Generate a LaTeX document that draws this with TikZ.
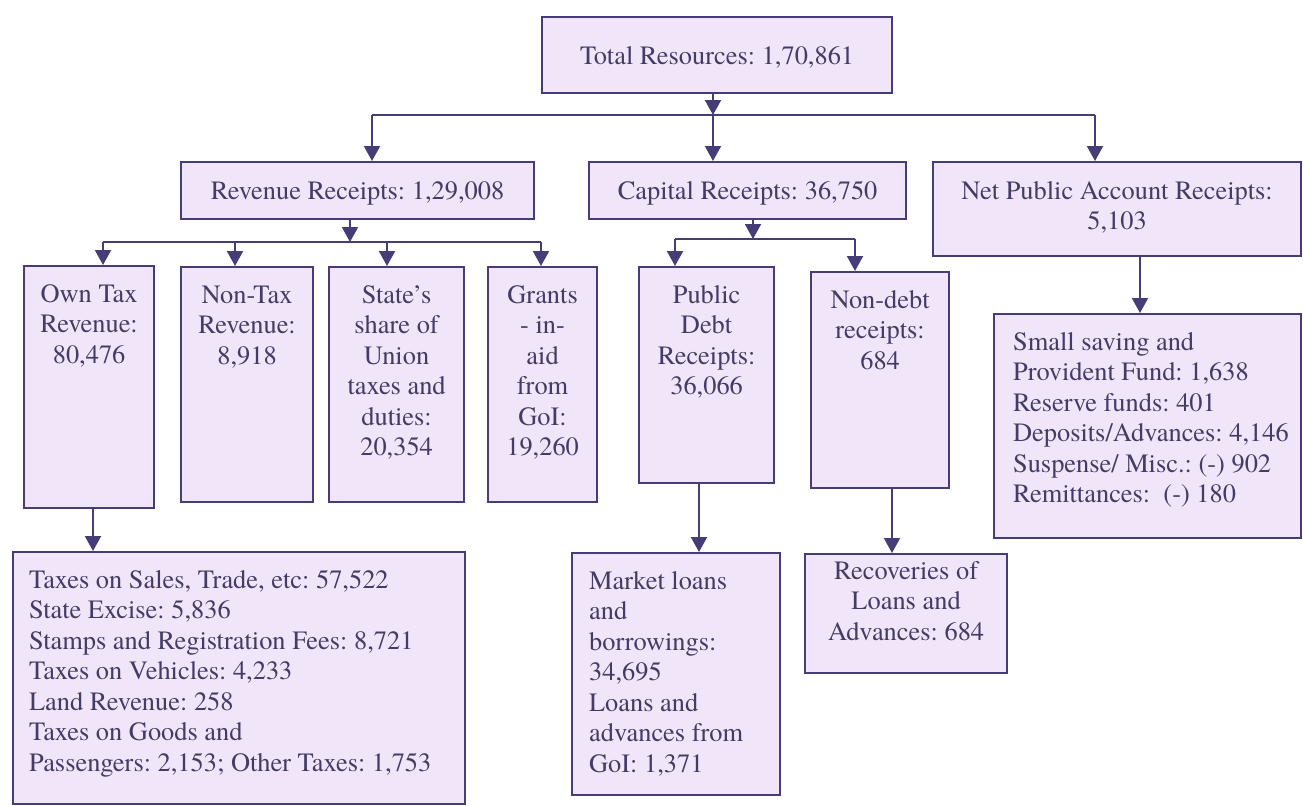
\documentclass[tikz,border=0pt]{standalone}
\usepackage{fontspec}
\setmainfont{texgyretermes-regular.otf}[BoldFont=texgyretermes-bold.otf]
\usetikzlibrary{arrows.meta}

\definecolor{boxfill}{RGB}{241,229,250}
\definecolor{boxline}{RGB}{70,60,120}
\definecolor{ink}{RGB}{68,60,100}

% box text: [first baseline]{text width}{box height}{lines}
\newcommand{\cell}[4][18pt]{\parbox[t][#3][t]{#2}{\vspace*{\dimexpr#1-\ht\strutbox\relax}\strut#4}}

\tikzset{
    cell/.style={draw=boxline, fill=boxfill, line width=1.1pt, inner xsep=3pt, inner ysep=0pt,
        anchor=north west, text=ink, font=\fontsize{13.2}{15.25}\selectfont\frenchspacing},
    flow/.style={draw=boxline, line width=1pt, -{Triangle[width=8pt,length=7.5pt]}},
    tie/.style={draw=boxline, line width=1pt}
}

\begin{document}
\begin{tikzpicture}[x=0.5pt, y=-0.5pt]
            \useasboundingbox (0,0) rectangle (1303,805);

            % top levels
            \node[cell] (total) at (541,16) {\cell[23.5pt]{169pt}{38pt}{\centering Total Resources: 1,70,861}};
            \node[cell] (rev) at (180,161) {\cell[18.5pt]{170.5pt}{28.5pt}{\centering Revenue Receipts: 1,29,008}};
            \node[cell] (cap) at (588,161) {\cell[18.5pt]{152.5pt}{28.5pt}{\centering Capital Receipts: 36,750}};
            \node[cell] (npa) at (932,161) {\cell[18.5pt]{178pt}{47pt}{\centering Net Public Account Receipts:\\5,103}};

            % second row
            \node[cell] (own) at (23,265) {\cell{59pt}{121pt}{\centering Own Tax\\Revenue:\\80,476}};
            \node[cell] (nontax) at (180,266) {\cell{60pt}{117.5pt}{\centering Non-Tax\\Revenue:\\8,918}};
            \node[cell] (share) at (328,266) {\cell{61.5pt}{117.5pt}{\centering State's\\share of\\Union\\taxes and\\duties:\\20,354}};
            \node[cell] (grants) at (487,266) {\cell{48.5pt}{117.5pt}{\centering Grants\\- in-\\aid\\from\\GoI:\\19,260}};
            \node[cell] (pdebt) at (638,266) {\cell{61.5pt}{108pt}{\centering Public\\Debt\\Receipts:\\36,066}};
            \node[cell] (nondebt) at (810,271) {\cell{63pt}{108pt}{\centering Non-debt\\receipts:\\684}};
            \node[cell] (smallsav) at (993,313) {\cell{147.5pt}{112pt}{\leftskip=6.5pt\relax Small saving and\\Provident Fund: 1,638\\Reserve funds: 401\\Deposits/Advances: 4,146\\Suspense/ Misc.: (-) 902\\Remittances:\ \ (-) 180}};

            % bottom row
            \node[cell] (taxes) at (12,551) {\cell{220pt}{126pt}{\leftskip=5pt\relax Taxes on Sales, Trade, etc: 57,522\\State Excise: 5,836\\Stamps and Registration Fees: 8,721\\Taxes on Vehicles: 4,233\\Land Revenue: 258\\Taxes on Goods and\\Passengers: 2,153; Other Taxes: 1,753}};
            \node[cell] (market) at (571,552) {\cell{98pt}{121pt}{\leftskip=5.5pt\relax Market loans\\and\\borrowings:\\34,695\\Loans and\\advances from\\GoI: 1,371}};
            \node[cell] (recov) at (804,553) {\cell[12.5pt]{95pt}{59.5pt}{\centering Recoveries of\\Loans and\\Advances: 684}};

            % branch points
            \coordinate (tj) at (713,115);
            \coordinate (t1) at (372,115);
            \coordinate (t3) at (1095,115);
            \coordinate (rj) at (350,242);
            \coordinate (r1) at (103,242);
            \coordinate (r2) at (235,242);
            \coordinate (r3) at (387,242);
            \coordinate (r4) at (541,242);
            \coordinate (cj) at (753,239);
            \coordinate (c1) at (675,239);
            \coordinate (c2) at (855,239);
            \coordinate (o1) at (93,0);
            \coordinate (p1) at (699,0);
            \coordinate (d1) at (892,0);
            \coordinate (s1) at (1140,0);

            \draw[flow] (total.south -| tj) -- (tj);
            \draw[tie] (t1) -- (t3);
            \draw[flow] (t1) -- (rev.north -| t1);
            \draw[flow] (tj) -- (cap.north -| tj);
            \draw[flow] (t3) -- (npa.north -| t3);

            \draw[flow] (rev.south -| rj) -- (rj);
            \draw[tie] (r1) -- (r4);
            \draw[flow] (r1) -- (own.north -| r1);
            \draw[flow] (r2) -- (nontax.north -| r2);
            \draw[flow] (r3) -- (share.north -| r3);
            \draw[flow] (r4) -- (grants.north -| r4);

            \draw[flow] (cap.south -| cj) -- (cj);
            \draw[tie] (c1) -- (c2);
            \draw[flow] (c1) -- (pdebt.north -| c1);
            \draw[flow] (c2) -- (nondebt.north -| c2);

            \draw[flow] (npa.south -| s1) -- (smallsav.north -| s1);
            \draw[flow] (own.south -| o1) -- (taxes.north -| o1);
            \draw[flow] (pdebt.south -| p1) -- (market.north -| p1);
            \draw[flow] (nondebt.south -| d1) -- (recov.north -| d1);
        \end{tikzpicture}
\end{document}
